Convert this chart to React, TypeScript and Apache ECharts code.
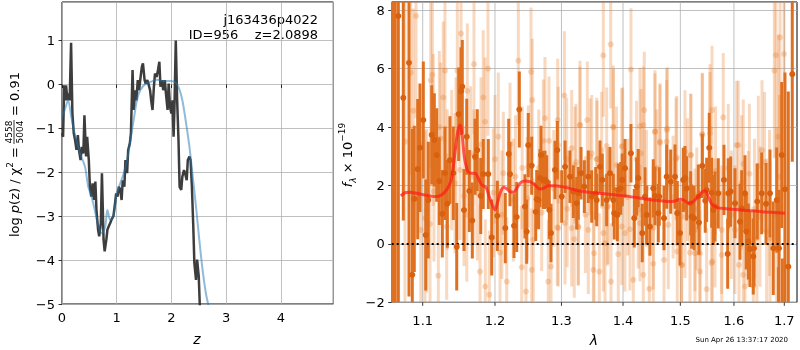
import React, { useEffect, useRef } from 'react';
import * as echarts from 'echarts';

// ---------- left panel: log p(z) ----------
const Z_FIT = [0, 0.02, 0.04, 0.055, 0.074, 0.1, 0.117, 0.14, 0.166, 0.19, 0.215, 0.24, 0.265, 0.29, 0.31, 0.34, 0.36, 0.39, 0.41, 0.44, 0.46, 0.49, 0.51, 0.535, 0.56, 0.585, 0.61, 0.63, 0.66, 0.68, 0.71, 0.73, 0.76, 0.78, 0.81, 0.83, 0.855, 0.88, 0.905, 0.94, 0.97, 0.99, 1.015, 1.04, 1.065, 1.09, 1.11, 1.14, 1.16, 1.19, 1.21, 1.24, 1.26, 1.29, 1.31, 1.34, 1.36, 1.385, 1.41, 1.43, 1.46, 1.48, 1.51, 1.53, 1.56, 1.58, 1.61, 1.63, 1.655, 1.68, 1.70, 1.73, 1.755, 1.78, 1.80, 1.83, 1.85, 1.88, 1.90, 1.93, 1.95, 1.975, 2.0, 2.02, 2.04, 2.055, 2.08, 2.105, 2.13, 2.15, 2.18, 2.20, 2.23, 2.25, 2.28, 2.30, 2.33, 2.35, 2.375, 2.40, 2.42, 2.45, 2.47, 2.50, 2.52];
const LOGP_FIT = [-1.11, -1.19, -0.02, -0.36, -0.02, -0.36, -0.2, -0.36, 0.95, -0.66, -1.11, -1.27, -1.49, -1.15, -1.49, -1.72, -1.42, -1.57, -0.7, -1.64, -1.19, -1.72, -2.33, -2.55, -2.25, -2.63, -2.21, -2.86, -3.31, -3.46, -3.16, -2.02, -3.54, -3.8, -3.54, -3.31, -3.23, -3.16, -3.08, -3.0, -2.7, -2.48, -2.55, -2.33, -2.4, -2.63, -2.18, -2.33, -1.72, -2.02, -1.49, -1.34, -1.11, 0.33, -0.58, -0.13, -0.36, 0.1, -0.13, 0.1, 0.4, 0.48, 0.1, 0.02, 0.1, 0.02, -0.13, -0.36, -0.58, -0.05, 0.25, 0.17, 0.33, 0.52, -0.05, 0.1, -0.13, 0.1, -0.2, -0.58, 0.02, -0.51, -0.66, -0.36, -1.19, -0.58, 1.0, -0.36, -1.27, -2.33, -2.4, -2.1, -1.95, -2.02, -2.18, -1.72, -1.64, -1.72, -2.33, -3.23, -4.07, -4.45, -3.99, -4.37, -5.05];

const Z_PRIOR = [0, 0.05, 0.11, 0.17, 0.23, 0.33, 0.42, 0.48, 0.54, 0.6, 0.665, 0.73, 0.79, 0.83, 0.88, 0.94, 1.0, 1.065, 1.13, 1.19, 1.25, 1.31, 1.37, 1.43, 1.53, 1.62, 1.74, 1.86, 1.99, 2.08, 2.14, 2.2, 2.26, 2.33, 2.39, 2.45, 2.51, 2.57, 2.63, 2.68];
const LOGP_PRIOR = [-0.73, -0.58, -0.36, -0.73, -1.11, -1.57, -1.87, -2.33, -2.55, -2.86, -3.23, -3.39, -3.23, -2.86, -3.08, -3.0, -2.48, -2.25, -2.02, -1.72, -1.27, -0.81, -0.36, -0.13, 0.02, 0.06, 0.11, 0.08, 0.08, 0.04, -0.09, -0.36, -0.81, -1.42, -2.1, -2.78, -3.54, -4.22, -4.75, -5.05];

// ---------- right panel: spectrum ----------
const LAM_TICKS = [1.1, 1.2, 1.3, 1.4, 1.5, 1.6, 1.7];

const DARK_LAM = [1.0607, 1.0642, 1.0682, 1.0746, 1.082, 1.0863, 1.0889, 1.0934, 1.0964, 1.1008, 1.104, 1.1074, 1.112, 1.1155, 1.1187, 1.1222, 1.1263, 1.1299, 1.1331, 1.1367, 1.1413, 1.146, 1.1487, 1.1519, 1.1537, 1.1561, 1.1599, 1.1635, 1.1677, 1.1715, 1.1747, 1.1796, 1.1832, 1.1904, 1.1953, 1.2034, 1.215, 1.22, 1.2219, 1.2278, 1.2318, 1.2357, 1.2441, 1.2467, 1.2491, 1.2542, 1.2603, 1.2618, 1.2684, 1.2719, 1.2771, 1.2811, 1.2837, 1.2899, 1.2935, 1.3004, 1.3056, 1.3134, 1.3187, 1.3241, 1.331, 1.3363, 1.3427, 1.3482, 1.3547, 1.3617, 1.3655, 1.3727, 1.3782, 1.3853, 1.392, 1.3987, 1.4033, 1.4134, 1.4191, 1.4259, 1.4328, 1.4404, 1.4461, 1.4519, 1.4607, 1.4708, 1.4756, 1.4827, 1.4904, 1.4945, 1.4994, 1.5053, 1.5115, 1.5188, 1.5249, 1.5328, 1.5402, 1.5457, 1.5532, 1.5607, 1.5701, 1.5809, 1.588, 1.5937, 1.602, 1.6117, 1.6214, 1.6312, 1.6391, 1.6456, 1.6544, 1.663, 1.671, 1.6776, 1.6845, 1.688, 1.6892, 1.6947, 1.696, 1.7014, 1.7082, 1.7164,
  1.2668, 1.3266, 1.3563, 1.2646, 1.2745, 1.3837, 1.3905, 1.3961, 1.4232, 1.4375, 1.4549, 1.4625, 1.5084, 1.5206, 1.534, 1.5483, 1.5577, 1.5639, 1.5891, 1.615, 1.624, 1.6279, 1.6377];
const DARK_FLUX = [9.5, -3, 7.8, 5.0, 6.2, -1.06, 1.54, 2.56, 3.29, 4.24, 0.3, 1.5, 3.73, 3.56, 3.04, 2.15, 1.03, 2.42, 1.37, 2.87, 2.42, -0.1, 4.44, 5.23, 5.38, 1.16, 3.67, 1.81, 0.8, 2.98, 3.21, 1.64, 2.39, 2.39, 0.22, 0.96, 0.54, 3.08, 2.39, 0.62, 0.92, 4.6, 1.28, 0.42, 3.38, 2.68, 1.1, 1.53, 3.04, 2.19, 2.13, 1.16, 0.37, 2.53, 3.21, 1.62, 2.64, 2.3, 1.79, 1.39, 2.42, 1.96, 2.3, 1.62, 1.73, 2.64, 2.19, 1.5, 2.42, 1.05, 1.85, 2.19, 2.59, 3.1, 0.88, 2.25, 0.37, 0.99, 0.59, 1.9, 1.05, 0.88, 2.3, 2.13, 2.3, 1.05, 0.37, 2.19, 1.9, 1.39, 0.88, 1.62, 2.67, 1.48, 3.29, 1.16, 1.73, 2.19, -0.34, 1.79, 1.39, 0.76, 1.73, -0.18, -0.15, 1.45, 1.73, 1.37, 1.73, -0.15, 1.5, -2.8, -0.15, 3.04, -3.5, 1.87, -0.78, 5.81,
  2.25, 1.73, 1.5, 1.5, 2.19, 1.5, 0.99, 1.9, 1.96, 1.62, 1.64, 1.62, 2.25, 0.93, 0.73, 1.85, 1.75, 1.28, 1.73, 1.22, 0.42, 0.08, -0.43];
const DARK_ERR = [12, 11.5, 10, 4.2, 8, 5, 2.5, 2.4, 2.2, 2.0, 1.9, 2.0, 1.7, 1.6, 1.6, 1.5, 1.5, 1.6, 1.5, 1.5, 1.6, 1.5, 1.6, 1.5, 1.6, 1.4, 1.3, 1.4, 1.3, 1.3, 1.4, 1.3, 1.2, 1.2, 1.3, 1.2, 1.2, 1.2, 1.1, 1.1, 1.2, 1.3, 1.1, 1.1, 1.1, 1.0, 1.0, 1.0, 1.0, 1.0, 0.9, 1.0, 1.0, 1.0, 1.0, 0.9, 0.9, 0.9, 0.9, 0.9, 0.9, 0.9, 0.9, 0.9, 0.9, 0.9, 0.9, 0.9, 0.9, 0.9, 0.9, 0.9, 1.0, 1.0, 1.0, 1.0, 1.0, 1.0, 1.0, 1.0, 1.0, 1.1, 1.1, 1.1, 1.1, 1.1, 1.1, 1.1, 1.1, 1.1, 1.1, 1.1, 1.1, 1.1, 1.2, 1.2, 1.2, 1.2, 1.2, 1.2, 1.2, 1.3, 1.3, 1.3, 1.3, 1.3, 1.4, 1.4, 1.5, 1.6, 1.8, 2.0, 2.0, 2.5, 3.0, 4.0, 6.0, 3.0,
  1.0, 0.9, 0.9, 1.0, 1.0, 0.9, 0.9, 0.9, 1.0, 1.0, 1.0, 1.0, 1.1, 1.1, 1.1, 1.1, 1.2, 1.2, 1.2, 1.3, 1.3, 1.3, 1.3];

const LIGHT_LAM = [1.0768, 1.0842, 1.0876, 1.0912, 1.0974, 1.103, 1.1053, 1.1097, 1.1106, 1.1128, 1.1141, 1.1209, 1.1222, 1.1241, 1.1276, 1.1299, 1.1322, 1.1391, 1.1436, 1.1450, 1.1468, 1.1505, 1.1519, 1.1561, 1.1607, 1.1654, 1.17, 1.1701, 1.1747, 1.1786, 1.1832, 1.1857, 1.1861, 1.1899, 1.1918, 1.1976, 1.2, 1.2048, 1.2073, 1.2121, 1.2171, 1.2219, 1.2268, 1.23, 1.2342, 1.2392, 1.2456, 1.2475, 1.2532, 1.2542, 1.2551, 1.265, 1.2745, 1.2795, 1.2837, 1.288, 1.2941, 1.295, 1.3046, 1.309, 1.3161, 1.3202, 1.323, 1.3266, 1.3293, 1.338, 1.3411, 1.3455, 1.3509, 1.352, 1.357, 1.3606, 1.3672, 1.37, 1.375, 1.3794, 1.3799, 1.3837, 1.389, 1.392, 1.3977, 1.4033, 1.408, 1.4134, 1.4174, 1.423, 1.4289, 1.4346, 1.4363, 1.44, 1.445, 1.4519, 1.4549, 1.458, 1.4637, 1.4708, 1.4756, 1.4767, 1.487, 1.4945, 1.5024, 1.5084, 1.513, 1.5188, 1.5267, 1.53, 1.5359, 1.5402, 1.5483, 1.5545, 1.5583, 1.5588, 1.565, 1.5766, 1.5796, 1.5891, 1.595, 1.6053, 1.6098, 1.615, 1.6181, 1.6214, 1.6279, 1.6377, 1.64, 1.6476, 1.6509, 1.66, 1.6643, 1.671, 1.6797, 1.6831, 1.6845, 1.6878, 1.6913, 1.6995,
  1.2719, 1.2806, 1.2950, 1.3082, 1.3213, 1.3293, 1.3482, 1.3563, 1.3645, 1.2935, 1.3056, 1.3161, 1.3266, 1.3427, 1.2694, 1.2566, 1.2491,
  1.3727, 1.3837, 1.3994, 1.4306, 1.4346, 1.4549, 1.4637, 1.4756, 1.4922, 1.3737, 1.3977, 1.4117, 1.4289, 1.4519, 1.4784, 1.4259, 1.3672,
  1.5402, 1.5545, 1.6084, 1.6181, 1.4935, 1.5193, 1.5084, 1.5267, 1.5639, 1.5766, 1.602, 1.5175, 1.5359, 1.5577, 1.5024,
  1.115, 1.133, 1.16, 1.18, 1.21, 1.24, 1.63, 1.645, 1.655, 1.67, 1.69];
const LIGHT_FLUX = [3.5, 5.86, 4.56, 7.8, 0.48, 0.88, 1.14, 0.68, 5.6, 5.79, 3.9, -1.09, 4.0, 3.61, 5.01, 5.93, 0.59, 2.87, 2.08, 3.3, 5.93, 2.53, 7.2, 1.64, 5.24, 3.1, 2.3, 6.15, 1.73, -0.95, 5.01, 4.18, -1.46, 6.0, -1.74, 1.75, 2.9, 3.67, -0.3, 2.42, -1.29, 3.42, 1.5, 2.3, 6.27, -0.8, -1.63, 1.56, 5.89, -0.89, 4.92, 2.6, 4.3, -1.29, -0.78, 1.9, 4.24, 0.54, 5.08, 1.2, 3.27, 0.16, 2.8, 0.59, 4.07, 1.0, 4.24, 2.98, -0.89, -0.32, 2.9, -0.95, 6.45, 0.02, 1.3, 6.83, -1.29, 3.99, 2.7, -0.35, 3.33, 0.37, 1.6, 5.97, -1.23, 2.9, 4.03, -1.06, 4.58, 1.9, -1.54, -0.68, 3.84, 2.6, 3.5, -0.55, 3.5, 3.95, 1.6, -0.26, -0.72, 3.16, 2.2, 3.04, -0.32, 1.2, -0.95, 3.73, -1.55, 3.95, 4.58, -0.6, 2.5, -0.38, 4.33, 2.59, 1.0, 3.38, -0.72, 2.1, -1.06, -1.46, 0.88, -1.44, 1.2, 2.67, 0.93, 2.8, 0.42, 0.19, 5.93, 6.46, 0.99, 3.67, 7.07, 6.5,
  3.53, 3.53, 3.38, 2.9, 2.7, 4.07, 3.1, 2.9, 3.21, 0.57, 0.71, 0.54, 0.57, 0.48, 1.07, 0.14, 2.64,
  3.35, 4.01, 3.35, 3.1, 4.07, 3.84, 3.46, 3.9, 2.9, 1.25, 0.59, 0.5, 0.71, 0.54, 0.65, 1.16, 0.37,
  3.76, 3.78, 3.38, 2.74, 2.96, 3.04, 0.93, 0.48, 0.71, 0.48, 0.48, -0.3, -0.32, -0.66, -0.72,
  1.8, 2.2, 1.0, 3.4, 1.0, 2.6, 2.4, 0.2, 3.2, 1.4, 2.3];
const LIGHT_ERR = [6, 3.5, 3.5, 3.5, 3.0, 3.0, 2.8, 2.8, 3.0, 2.8,
  2.6, 2.6, 2.6, 2.6, 2.6, 2.5, 2.5, 2.4, 2.4, 2.4,
  2.4, 2.4, 2.4, 2.4, 2.3, 2.3, 2.3, 2.4, 2.3, 2.3,
  2.3, 2.2, 2.3, 2.3, 2.2, 2.2, 2.2, 2.2, 2.2, 2.1,
  2.2, 2.1, 2.1, 2.1, 2.2, 2.1, 2.1, 2.1, 2.2, 2.1,
  2.1, 2.0, 2.1, 2.1, 2.1, 2.0, 2.1, 2.0, 2.2, 2.0,
  2.0, 2.0, 2.0, 2.0, 2.0, 2.0, 2.0, 2.0, 2.0, 2.0,
  2.0, 2.0, 2.1, 2.0, 2.0, 2.2, 2.0, 2.0, 2.0, 2.0,
  2.0, 2.0, 2.0, 2.1, 2.0, 2.0, 2.0, 2.0, 2.0, 2.0,
  2.0, 2.0, 2.0, 2.0, 2.0, 2.1, 2.1, 2.1, 2.1, 2.1,
  2.1, 2.1, 2.1, 2.1, 2.1, 2.1, 2.1, 2.1, 2.1, 2.2,
  2.2, 2.2, 2.2, 2.2, 2.2, 2.2, 2.2, 2.2, 2.2, 2.3,
  2.3, 2.3, 2.3, 2.3, 2.4, 2.4, 2.4, 2.4, 2.5, 2.6,
  3.0, 3.5, 3.0, 3.5, 4.0, 4.5,
  2.1, 2.2, 2.0, 2.1, 2.0, 2.2, 2.0, 2.1, 2.0, 2.0, 2.1, 2.0, 2.0, 2.2, 2.0, 2.1, 2.1,
  2.0, 2.1, 2.0, 2.2, 2.0, 2.1, 2.0, 2.1, 2.1, 2.0, 2.0, 2.1, 2.0, 2.1, 2.2, 2.0, 2.0,
  2.1, 2.1, 2.2, 2.2, 2.1, 2.1, 2.1, 2.1, 2.2, 2.2, 2.2, 2.1, 2.1, 2.2, 2.1,
  2.4, 2.4, 2.3, 2.3, 2.2, 2.1, 2.4, 2.4, 2.4, 2.5, 2.8];

const MODEL_LAM = [1.0713, 1.0768, 1.0833, 1.0921, 1.1008, 1.1097, 1.1187, 1.1254, 1.1322, 1.1377, 1.1413, 1.145, 1.1482, 1.1509, 1.1537, 1.1565, 1.1607, 1.1654, 1.1715, 1.1761, 1.181, 1.1871, 1.1918, 1.1961, 1.2, 1.2034, 1.2083, 1.2131, 1.2171, 1.2219, 1.2268, 1.2318, 1.2377, 1.2441, 1.2516, 1.2592, 1.2658, 1.2719, 1.2795, 1.2899, 1.3004, 1.3134, 1.3293, 1.3509, 1.3727, 1.3949, 1.4174, 1.4404, 1.4637, 1.4815, 1.4904, 1.4994, 1.5066, 1.5144, 1.5236, 1.5328, 1.541, 1.5457, 1.5513, 1.5577, 1.5671, 1.5861, 1.6117, 1.6377, 1.6643, 1.7014];
const MODEL_FLUX = [1.64, 1.75, 1.77, 1.73, 1.68, 1.64, 1.62, 1.68, 1.85, 2.13, 2.64, 3.44, 3.95, 4.07, 3.67, 2.98, 2.53, 2.42, 2.42, 2.25, 2.02, 1.93, 1.62, 1.33, 1.16, 1.39, 1.79, 1.94, 1.88, 1.79, 1.77, 1.9, 2.1, 2.15, 2.13, 2.02, 1.88, 1.9, 1.99, 1.99, 1.96, 1.9, 1.81, 1.75, 1.71, 1.66, 1.6, 1.53, 1.48, 1.45, 1.47, 1.53, 1.5, 1.39, 1.45, 1.62, 1.79, 1.82, 1.62, 1.37, 1.25, 1.2, 1.16, 1.13, 1.09, 1.05];

// axis ranges
const Z_MIN = 0, Z_MAX = 4.96, LOGP_MIN = -5, LOGP_MAX = 1.88;
const LAM_MIN = 1.0597, LAM_MAX = 1.7262, F_MIN = -2, F_MAX = 8.28;

const FONT = 'DejaVu Sans';
const minus = (v: number) => String(v).replace('-', '\u2212');

export default function App() {
  const ref = useRef<HTMLDivElement>(null);
  useEffect(() => {
    const chart = echarts.init(ref.current!, null, { renderer: 'svg' });
    const ln = Math.log;
    const errData = (lam: number[], f: number[], e: number[]) => lam.map((l, i) => [ln(l), f[i], e[i]]);
    const ptData = (lam: number[], f: number[]) => lam.map((l, i) => [ln(l), f[i]]);

    const errSeries = (name: string, data: number[][], color: string, opacity: number, z: number) => ({
      name,
      type: 'custom',
      xAxisIndex: 1,
      yAxisIndex: 1,
      clip: true,
      silent: true,
      z,
      data,
      renderItem: (_p: any, api: any) => {
        const x = api.value(0), y = api.value(1), e = api.value(2);
        const a = api.coord([x, y - e]);
        const b = api.coord([x, y + e]);
        return {
          type: 'line',
          shape: { x1: a[0], y1: a[1], x2: b[0], y2: b[1] },
          style: { stroke: color, lineWidth: 3, opacity },
        };
      },
    });

    const option: any = {
      animation: false,
      grid: [
        { left: 62, top: 2, width: 271.3, height: 302, show: true, borderColor: '#000', borderWidth: 1, backgroundColor: 'transparent' },
        { left: 391.7, top: 2, width: 405.3, height: 300.3, show: true, borderColor: '#000', borderWidth: 1, backgroundColor: 'transparent' },
      ],
      xAxis: [
        {
          type: 'value', gridIndex: 0, min: Z_MIN, max: Z_MAX, interval: 1,
          axisLine: { show: false },
          axisTick: { show: true, length: 3.5, lineStyle: { color: '#000', width: 0.8 } },
          axisLabel: { color: '#000', fontSize: 13, fontFamily: FONT, margin: 7, showMaxLabel: false },
          splitLine: { show: true, lineStyle: { color: '#b0b0b0', width: 0.8 } },
        },
        {
          type: 'value', gridIndex: 1, min: ln(LAM_MIN), max: ln(LAM_MAX),
          axisLine: { show: false }, axisTick: { show: false }, axisLabel: { show: false }, splitLine: { show: false },
        },
      ],
      yAxis: [
        {
          type: 'value', gridIndex: 0, min: LOGP_MIN, max: LOGP_MAX, interval: 1,
          axisLine: { show: false },
          axisTick: { show: true, length: 3.5, lineStyle: { color: '#000', width: 0.8 } },
          axisLabel: { color: '#000', fontSize: 13, fontFamily: FONT, margin: 7, formatter: minus, showMaxLabel: false },
          splitLine: { show: true, lineStyle: { color: '#b0b0b0', width: 0.8 } },
        },
        {
          type: 'value', gridIndex: 1, min: F_MIN, max: F_MAX, interval: 2,
          axisLine: { show: false },
          axisTick: { show: true, length: 3.5, lineStyle: { color: '#000', width: 0.8 } },
          axisLabel: { color: '#000', fontSize: 13, fontFamily: FONT, margin: 7, formatter: minus, showMaxLabel: false },
          splitLine: { show: true, lineStyle: { color: '#b0b0b0', width: 0.8 } },
        },
      ],
      series: [
        {
          name: 'fit', type: 'line', xAxisIndex: 0, yAxisIndex: 0, showSymbol: false, z: 3,
          data: Z_FIT.map((z, i) => [z, LOGP_FIT[i]]),
          lineStyle: { color: '#333333', width: 2.5, opacity: 0.95 },
        },
        {
          name: 'prior', type: 'line', xAxisIndex: 0, yAxisIndex: 0, showSymbol: false, smooth: 0.3, z: 4,
          data: Z_PRIOR.map((z, i) => [z, LOGP_PRIOR[i]]),
          lineStyle: { color: '#1f77b4', width: 2, opacity: 0.5 },
        },
        {
          name: 'lamTicks', type: 'custom', xAxisIndex: 1, yAxisIndex: 1, clip: false, silent: true, z: 1,
          data: LAM_TICKS.map((l) => [ln(l), l]),
          renderItem: (_p: any, api: any) => {
            const x = api.value(0);
            const lab = api.value(1);
            const b = api.coord([x, F_MIN]);
            const t = api.coord([x, F_MAX]);
            return {
              type: 'group',
              children: [
                { type: 'line', shape: { x1: b[0], y1: t[1], x2: b[0], y2: b[1] }, style: { stroke: '#b0b0b0', lineWidth: 0.8 } },
                { type: 'line', shape: { x1: b[0], y1: b[1], x2: b[0], y2: b[1] + 3.5 }, style: { stroke: '#000', lineWidth: 0.8 } },
                {
                  type: 'text', x: b[0], y: b[1] + 18,
                  style: { text: Number(lab).toFixed(1), fontSize: 13, fontFamily: FONT, fill: '#000', align: 'center', verticalAlign: 'middle' },
                },
              ],
            };
          },
        },
        errSeries('lightErr', errData(LIGHT_LAM, LIGHT_FLUX, LIGHT_ERR), '#e87d2c', 0.3, 2),
        {
          name: 'lightPts', type: 'scatter', xAxisIndex: 1, yAxisIndex: 1, symbolSize: 6, z: 3, silent: true,
          data: ptData(LIGHT_LAM, LIGHT_FLUX),
          itemStyle: { color: '#e87d2c', opacity: 0.3 },
        },
        errSeries('darkErr', errData(DARK_LAM, DARK_FLUX, DARK_ERR), '#df7020', 1, 4),
        {
          name: 'darkPts', type: 'scatter', xAxisIndex: 1, yAxisIndex: 1, symbolSize: 6, z: 5, silent: true,
          data: ptData(DARK_LAM, DARK_FLUX),
          itemStyle: { color: '#d9600e', opacity: 1 },
        },
        {
          name: 'model', type: 'line', xAxisIndex: 1, yAxisIndex: 1, showSymbol: false, smooth: 0.3, z: 6,
          data: ptData(MODEL_LAM, MODEL_FLUX),
          lineStyle: { color: '#ff1a1a', width: 3, opacity: 0.7 },
          markLine: {
            silent: true, symbol: 'none', label: { show: false },
            lineStyle: { color: '#000', type: [2, 3], width: 2, opacity: 1 },
            data: [{ yAxis: 0 }],
          },
        },
      ],
      graphic: [
        { type: 'text', x: 318, y: 19, style: { text: 'j163436p4022', fontSize: 13, fontFamily: FONT, fill: '#000', align: 'right', verticalAlign: 'middle' } },
        { type: 'text', x: 318, y: 34, style: { text: 'ID=956    z=2.0898', fontSize: 13, fontFamily: FONT, fill: '#000', align: 'right', verticalAlign: 'middle' } },
        { type: 'text', x: 197, y: 339, style: { text: 'z', fontSize: 14, fontStyle: 'italic', fontFamily: FONT, fill: '#000', align: 'center', verticalAlign: 'middle' } },
        { type: 'text', x: 594, y: 340, style: { text: 'λ', fontSize: 14, fontStyle: 'italic', fontFamily: FONT, fill: '#000', align: 'center', verticalAlign: 'middle' } },
        { type: 'text', x: 788, y: 340, style: { text: 'Sun Apr 26 13:37:17 2020', fontSize: 7, fontFamily: FONT, fill: '#000', align: 'right', verticalAlign: 'middle' } },
        {
          type: 'group', x: 14, y: 145, rotation: Math.PI / 2,
          children: [
            {
              type: 'text', x: -2, y: 0,
              style: {
                text: '{t|log }{i|p}{t|(z) / χ}{s|2}{t| =}',
                align: 'right', verticalAlign: 'middle', fontFamily: FONT, fill: '#000',
                rich: {
                  t: { fontSize: 13, fontFamily: FONT, lineHeight: 18 },
                  i: { fontSize: 13, fontFamily: FONT, fontStyle: 'italic', lineHeight: 18 },
                  s: { fontSize: 9, fontFamily: FONT, verticalAlign: 'top', lineHeight: 18 },
                },
              },
            },
            { type: 'text', x: 13, y: -5, style: { text: '4558', fontSize: 9, fontFamily: FONT, fill: '#000', align: 'center', verticalAlign: 'middle' } },
            { type: 'line', shape: { x1: 1, y1: 0, x2: 25, y2: 0 }, style: { stroke: '#000', lineWidth: 0.8 } },
            { type: 'text', x: 13, y: 5.5, style: { text: '5004', fontSize: 9, fontFamily: FONT, fill: '#000', align: 'center', verticalAlign: 'middle' } },
            { type: 'text', x: 29, y: 0, style: { text: '= 0.91', fontSize: 13, fontFamily: FONT, fill: '#000', align: 'left', verticalAlign: 'middle' } },
          ],
        },
        {
          type: 'text', x: 347, y: 155, rotation: Math.PI / 2,
          style: {
            text: '{i|f}{sub|λ}{t| × 10}{sup|\u221219}',
            align: 'center', verticalAlign: 'middle', fontFamily: FONT, fill: '#000',
            rich: {
              t: { fontSize: 13, fontFamily: FONT, lineHeight: 20 },
              i: { fontSize: 13, fontFamily: FONT, fontStyle: 'italic', lineHeight: 20 },
              sub: { fontSize: 9, fontFamily: FONT, fontStyle: 'italic', verticalAlign: 'bottom', lineHeight: 20 },
              sup: { fontSize: 9, fontFamily: FONT, verticalAlign: 'top', lineHeight: 20 },
            },
          },
        },
      ],
    };
    chart.setOption(option);
    return () => chart.dispose();
  }, []);
  return <div ref={ref} style={{ position: 'fixed', left: 0, top: 0, width: 800, height: 350 }} />;
}
